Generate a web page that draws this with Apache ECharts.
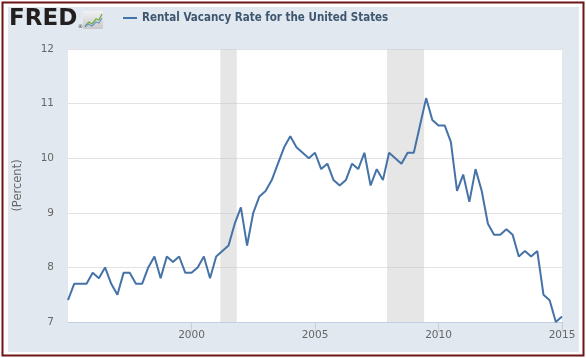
<!DOCTYPE html>
<html><head><meta charset="utf-8">
<script src="https://cdn.jsdelivr.net/npm/echarts@6/dist/echarts.min.js"></script>
<style>html,body{margin:0;padding:0;background:#fff}#c{width:586px;height:358px}</style>
</head><body><div id="c"></div>
<script>
const seriesName = 'Rental Vacancy Rate for the United States';
const quarters = [
  '1995Q1','1995Q2','1995Q3','1995Q4','1996Q1','1996Q2','1996Q3','1996Q4',
  '1997Q1','1997Q2','1997Q3','1997Q4','1998Q1','1998Q2','1998Q3','1998Q4',
  '1999Q1','1999Q2','1999Q3','1999Q4','2000Q1','2000Q2','2000Q3','2000Q4',
  '2001Q1','2001Q2','2001Q3','2001Q4','2002Q1','2002Q2','2002Q3','2002Q4',
  '2003Q1','2003Q2','2003Q3','2003Q4','2004Q1','2004Q2','2004Q3','2004Q4',
  '2005Q1','2005Q2','2005Q3','2005Q4','2006Q1','2006Q2','2006Q3','2006Q4',
  '2007Q1','2007Q2','2007Q3','2007Q4','2008Q1','2008Q2','2008Q3','2008Q4',
  '2009Q1','2009Q2','2009Q3','2009Q4','2010Q1','2010Q2','2010Q3','2010Q4',
  '2011Q1','2011Q2','2011Q3','2011Q4','2012Q1','2012Q2','2012Q3','2012Q4',
  '2013Q1','2013Q2','2013Q3','2013Q4','2014Q1','2014Q2','2014Q3','2014Q4',
  '2015Q1'
];
const vacancyRate = [
  7.4, 7.7, 7.7, 7.7,   7.9, 7.8, 8.0, 7.7,
  7.5, 7.9, 7.9, 7.7,   7.7, 8.0, 8.2, 7.8,
  8.2, 8.1, 8.2, 7.9,   7.9, 8.0, 8.2, 7.8,
  8.2, 8.3, 8.4, 8.8,   9.1, 8.4, 9.0, 9.3,
  9.4, 9.6, 9.9, 10.2,  10.4, 10.2, 10.1, 10.0,
  10.1, 9.8, 9.9, 9.6,  9.5, 9.6, 9.9, 9.8,
  10.1, 9.5, 9.8, 9.6,  10.1, 10.0, 9.9, 10.1,
  10.1, 10.6, 11.1, 10.7, 10.6, 10.6, 10.3, 9.4,
  9.7, 9.2, 9.8, 9.4,   8.8, 8.6, 8.6, 8.7,
  8.6, 8.2, 8.3, 8.2,   8.3, 7.5, 7.4, 7.0,
  7.1
];
const recessions = [['2001-03', '2001-11'], ['2007-12', '2009-06']];
const yTicks = [7, 8, 9, 10, 11, 12];
const xTickYears = [1995, 2000, 2005, 2010, 2015];

function qToYear(q) { const y = +q.slice(0, 4), n = +q.slice(5); return y + (n - 1) / 4; }
function mToYear(m) { const y = +m.slice(0, 4), n = +m.slice(5); return y + (n - 1) / 12; }

const lineData = quarters.map((q, i) => [qToYear(q), vacancyRate[i]]);
const areas = recessions.map(r => [{ xAxis: mToYear(r[0]) }, { xAxis: mToYear(r[1]) }]);

const chart = echarts.init(document.getElementById('c'), null, { renderer: 'canvas' });
chart.setOption({
  backgroundColor: '#ffffff',
  animation: false,
  textStyle: { fontFamily: 'DejaVu Sans' },
  graphic: [
    { type: 'rect', z: -100, shape: { x: 2.5, y: 2.5, width: 581, height: 353 },
      style: { fill: '#ffffff', stroke: '#6e1515', lineWidth: 2 } },
    { type: 'rect', z: -99, shape: { x: 8, y: 7, width: 571, height: 345 },
      style: { fill: '#e1e8f0' } },
    { type: 'text', z: 100, style: { text: 'FRED', x: 9, y: 19, verticalAlign: 'middle',
      font: 'bold 23px "DejaVu Sans"', fill: '#231f20' } },
    { type: 'text', z: 100, style: { text: '®', x: 78, y: 27, verticalAlign: 'middle',
      font: '5px "DejaVu Sans"', fill: '#231f20' } },
    { type: 'rect', z: 100, shape: { x: 83, y: 11, width: 20, height: 18, r: 1 },
      style: { fill: new echarts.graphic.LinearGradient(0, 0, 0, 1, [
        { offset: 0, color: '#f2f2f2' }, { offset: 1, color: '#c9c9c9' }]) } },
    { type: 'polyline', z: 101, shape: { points: [[85, 26], [89, 22], [92, 24], [96, 19], [99, 20], [102, 14]] },
      style: { stroke: '#6fae3f', lineWidth: 1.3, fill: null } },
    { type: 'polyline', z: 101, shape: { points: [[85, 27], [88, 24], [92, 26], [96, 22], [99, 23], [102, 18]] },
      style: { stroke: '#6f94c4', lineWidth: 1.1, fill: null } }
  ],
  legend: {
    left: 123, top: 12, padding: 0,
    icon: 'rect', itemWidth: 14, itemHeight: 2, itemGap: 10,
    textStyle: { fontFamily: 'DejaVu Sans Condensed', fontWeight: 'bold', fontSize: 11.5, color: '#3e576f', padding: [0, 0, 0, 0] },
    data: [seriesName]
  },
  grid: { left: 68, right: 24, top: 49, bottom: 36, show: true, backgroundColor: '#ffffff', borderWidth: 0 },
  xAxis: {
    type: 'value', min: xTickYears[0], max: xTickYears[xTickYears.length - 1], interval: 5,
    axisLine: { lineStyle: { color: '#c0d0e0', width: 1 } },
    axisTick: { show: true, length: 10, lineStyle: { color: '#c0d0e0' } },
    axisLabel: { showMinLabel: false, color: '#666666', fontSize: 10.5, margin: 8, formatter: v => String(v) },
    splitLine: { show: false }
  },
  yAxis: {
    type: 'value', min: yTicks[0], max: yTicks[yTicks.length - 1], interval: 1,
    name: '(Percent)', nameLocation: 'middle', nameGap: 44,
    nameTextStyle: { color: '#666666', fontSize: 11.5 },
    axisLine: { show: false }, axisTick: { show: false },
    axisLabel: { color: '#666666', fontSize: 10.5, margin: 14 },
    splitLine: { lineStyle: { color: '#e2e2e2', width: 1 } }
  },
  series: [{
    name: seriesName, type: 'line', data: lineData,
    showSymbol: false, symbol: 'none',
    lineStyle: { color: '#4572a7', width: 2 }, itemStyle: { color: '#4572a7' },
    markArea: { silent: true, itemStyle: { color: 'rgba(200,200,200,0.45)' }, data: areas }
  }]
});
</script></body></html>
